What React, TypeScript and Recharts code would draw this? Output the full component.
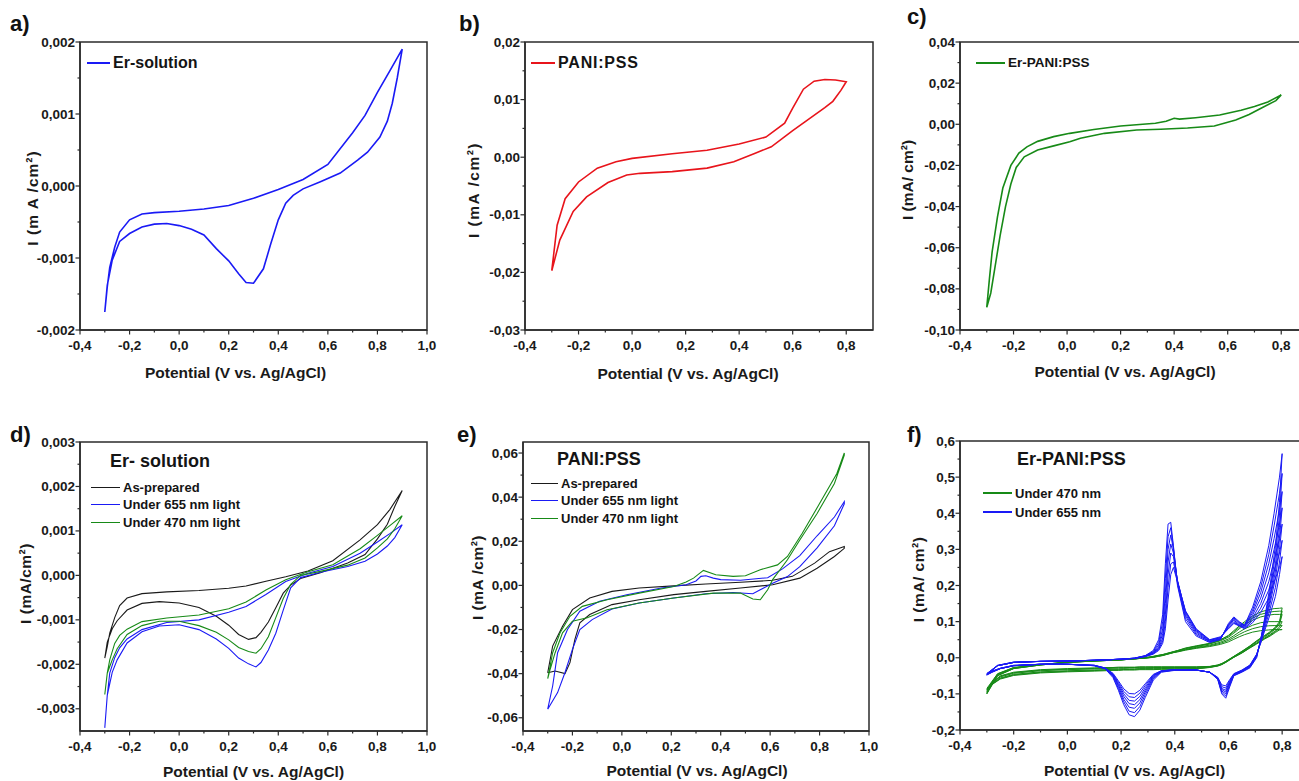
import React from 'react';
import { LineChart, Line, XAxis, YAxis, ReferenceArea, Legend } from 'recharts';

const FONT = '"Liberation Sans", Arial, Helvetica, sans-serif';
const AX = '#2b2b2b';
const TS = 5;
const TM = 3;
const PAD_L = 80;
const PAD_T = 20;
const PAD_R = 12;
const PAD_B = 60;

// ---- a) Er-solution
const aV = [-0.3, -0.29, -0.28, -0.26, -0.24, -0.2, -0.15, -0.1, 0.0, 0.1, 0.2, 0.3, 0.4, 0.5, 0.6, 0.7, 0.75, 0.8, 0.85, 0.9,
  0.88, 0.86, 0.84, 0.81, 0.76, 0.72, 0.65, 0.57, 0.5, 0.46, 0.43, 0.4, 0.37, 0.34, 0.3, 0.27, 0.24, 0.2, 0.15, 0.1, 0.05, 0.0, -0.05, -0.1, -0.15, -0.2, -0.24, -0.27, -0.29, -0.3];
const aI = [-0.00175, -0.0014, -0.00113, -0.00085, -0.00064, -0.00047, -0.00039, -0.00037, -0.00035, -0.00032, -0.00027, -0.00017, -0.00005, 0.00009, 0.0003, 0.00074, 0.00098, 0.0013, 0.0016, 0.0019,
  0.0015, 0.00115, 0.0009, 0.00068, 0.00047, 0.00036, 0.00018, 0.00006, -0.00004, -0.00013, -0.00024, -0.00047, -0.0008, -0.00115, -0.00135, -0.00134, -0.00122, -0.00104, -0.00087, -0.00068, -0.0006, -0.00055, -0.00052, -0.00053, -0.00057, -0.00066, -0.00077, -0.00103, -0.00138, -0.00175];

// ---- b) PANI:PSS
const bV = [-0.3, -0.28, -0.25, -0.2, -0.13, -0.06, 0.0, 0.15, 0.28, 0.4, 0.5, 0.57, 0.6, 0.64, 0.68, 0.72, 0.76, 0.8,
  0.78, 0.75, 0.72, 0.66, 0.6, 0.52, 0.46, 0.38, 0.28, 0.15, 0.03, -0.02, -0.09, -0.17, -0.22, -0.27, -0.3];
const bI = [-0.0197, -0.0118, -0.0072, -0.0043, -0.0019, -0.0008, -0.0002, 0.0006, 0.0012, 0.0023, 0.0035, 0.0059, 0.0085, 0.0118, 0.0132, 0.0135, 0.0134, 0.0131,
  0.0116, 0.0097, 0.0086, 0.0066, 0.0046, 0.0018, 0.0007, -0.0008, -0.0019, -0.0025, -0.0028, -0.0031, -0.0044, -0.0069, -0.0094, -0.0144, -0.0197];

// ---- c) Er-PANI:PSS
const cV = [-0.3, -0.29, -0.28, -0.26, -0.24, -0.21, -0.18, -0.15, -0.11, -0.05, 0.01, 0.1, 0.2, 0.33, 0.37, 0.4, 0.42, 0.48, 0.57, 0.65, 0.7, 0.75, 0.8,
  0.78, 0.73, 0.68, 0.63, 0.55, 0.45, 0.35, 0.26, 0.14, 0.05, 0.01, -0.05, -0.11, -0.16, -0.19, -0.21, -0.23, -0.25, -0.27, -0.285, -0.3];
const cI = [-0.089, -0.075, -0.062, -0.045, -0.031, -0.02, -0.014, -0.011, -0.0083, -0.006, -0.0044, -0.0025, -0.0008, 0.0005, 0.0015, 0.0029, 0.0025, 0.0032, 0.0045, 0.0068, 0.0086, 0.0108, 0.0143,
  0.0115, 0.0082, 0.0048, 0.0021, -0.0008, -0.0018, -0.0024, -0.0028, -0.0044, -0.0068, -0.0085, -0.0105, -0.0125, -0.0158, -0.021, -0.029, -0.04, -0.054, -0.07, -0.082, -0.089];

// ---- d) Er- solution under light
const dV = [-0.3, -0.29, -0.28, -0.26, -0.24, -0.21, -0.15, -0.05, 0.08, 0.2, 0.27, 0.35, 0.43, 0.52, 0.62, 0.73, 0.8, 0.85, 0.9,
  0.87, 0.84, 0.8, 0.75, 0.68, 0.57, 0.49, 0.45, 0.42, 0.39, 0.36, 0.33, 0.31, 0.28, 0.24, 0.2, 0.15, 0.08, 0.0, -0.08, -0.15, -0.21, -0.25, -0.27, -0.29, -0.3];
const dBlack = [-0.00186, -0.0016, -0.0013, -0.00095, -0.00068, -0.00051, -0.00041, -0.00037, -0.00034, -0.00029, -0.00024, -0.00013, -0.00003, 0.0001, 0.00033, 0.0008, 0.00114, 0.00148, 0.00191,
  0.00155, 0.00115, 0.00082, 0.00047, 0.00028, 0.00006, -0.00007, -0.00022, -0.0004, -0.00073, -0.00105, -0.00128, -0.0014, -0.00144, -0.00133, -0.00112, -0.00092, -0.00072, -0.00062, -0.00059, -0.00063, -0.00078, -0.00102, -0.0012, -0.0015, -0.00186];
const dBlue = [-0.00343, -0.0027, -0.0022, -0.00185, -0.00163, -0.00143, -0.00122, -0.00106, -0.001, -0.00083, -0.0007, -0.00043, -0.00014, 0.00005, 0.0002, 0.0005, 0.00075, 0.00094, 0.00114,
  0.00085, 0.00066, 0.00048, 0.00032, 0.0002, 0.00007, -0.00005, -0.00028, -0.00078, -0.0013, -0.00168, -0.00196, -0.00206, -0.00199, -0.00186, -0.00164, -0.00143, -0.00122, -0.00111, -0.00114, -0.00127, -0.00152, -0.0019, -0.00218, -0.0027, -0.00343];
const dGreen = [-0.00268, -0.0022, -0.0019, -0.00153, -0.00135, -0.00121, -0.00104, -0.00096, -0.00089, -0.00075, -0.0006, -0.00033, -0.0001, 0.00008, 0.00024, 0.0006, 0.0009, 0.00112, 0.00134,
  0.00105, 0.00082, 0.00062, 0.00039, 0.00023, 0.00009, 0.0, -0.0002, -0.00052, -0.00095, -0.00138, -0.00165, -0.00175, -0.00171, -0.00162, -0.00145, -0.00128, -0.00113, -0.00103, -0.00103, -0.00113, -0.00133, -0.00165, -0.0019, -0.0022, -0.00268];

// ---- e) PANI:PSS under light
const eBlackV = [-0.3, -0.28, -0.24, -0.2, -0.13, -0.04, 0.07, 0.21, 0.34, 0.48, 0.61, 0.69, 0.78, 0.84, 0.9,
  0.9, 0.86, 0.79, 0.72, 0.61, 0.48, 0.34, 0.21, 0.07, -0.04, -0.13, -0.17, -0.19, -0.21, -0.23, -0.27, -0.3];
const eBlackI = [-0.0396, -0.0275, -0.0185, -0.011, -0.0057, -0.0027, -0.0012, -0.0002, 0.0006, 0.0014, 0.0023, 0.0041, 0.0101, 0.0153, 0.0176,
  0.0168, 0.0131, 0.0078, 0.0033, 0.0003, -0.0012, -0.0027, -0.0042, -0.0065, -0.0087, -0.0132, -0.017, -0.0245, -0.035, -0.04, -0.0388, -0.0396];
const eBlueV = [-0.3, -0.28, -0.26, -0.22, -0.17, -0.09, 0.02, 0.16, 0.26, 0.3, 0.32, 0.34, 0.37, 0.4, 0.48, 0.59, 0.65, 0.72, 0.79, 0.86, 0.9,
  0.9, 0.86, 0.79, 0.72, 0.67, 0.61, 0.56, 0.53, 0.45, 0.34, 0.21, 0.07, -0.04, -0.12, -0.17, -0.2, -0.23, -0.26, -0.3];
const eBlueI = [-0.0561, -0.0456, -0.0305, -0.02, -0.0117, -0.0072, -0.0042, -0.0012, 0.0003, 0.002, 0.0041, 0.0044, 0.0033, 0.0026, 0.0023, 0.0035, 0.0075, 0.0135, 0.0225, 0.031, 0.038,
  0.037, 0.027, 0.017, 0.0085, 0.004, 0.001, -0.002, -0.0038, -0.0032, -0.0038, -0.0057, -0.008, -0.0107, -0.0155, -0.02, -0.029, -0.0395, -0.0486, -0.0561];
const eGreenV = [-0.3, -0.28, -0.25, -0.21, -0.16, -0.06, 0.07, 0.21, 0.26, 0.29, 0.33, 0.38, 0.45, 0.5, 0.56, 0.63, 0.67, 0.73, 0.8, 0.87, 0.9,
  0.9, 0.86, 0.79, 0.72, 0.67, 0.61, 0.59, 0.56, 0.53, 0.48, 0.37, 0.21, 0.07, -0.06, -0.14, -0.2, -0.24, -0.27, -0.29, -0.3];
const eGreenI = [-0.0423, -0.0305, -0.0215, -0.014, -0.0095, -0.0065, -0.0035, -0.0005, 0.0015, 0.0033, 0.0068, 0.0048, 0.0041, 0.0044, 0.0071, 0.0093, 0.0131, 0.0236, 0.0371, 0.0507, 0.06,
  0.059, 0.0462, 0.0326, 0.0206, 0.0116, 0.0026, -0.002, -0.0065, -0.0062, -0.0035, -0.0035, -0.0057, -0.008, -0.011, -0.0147, -0.0162, -0.0215, -0.0305, -0.038, -0.0423];

// ---- f) Er-PANI:PSS, repeated cycles (anodic then cathodic sweep)
const fUpV = [-0.3, -0.26, -0.2, -0.1, 0.0, 0.1, 0.2, 0.25, 0.29, 0.32, 0.34, 0.355, 0.365, 0.375, 0.385, 0.395, 0.41, 0.44, 0.48, 0.53, 0.57, 0.6, 0.62, 0.64, 0.66, 0.69, 0.72, 0.75, 0.77, 0.79, 0.8];
const fDownV = [0.8, 0.79, 0.775, 0.755, 0.735, 0.72, 0.705, 0.68, 0.65, 0.62, 0.605, 0.59, 0.575, 0.56, 0.53, 0.48, 0.4, 0.35, 0.32, 0.29, 0.27, 0.25, 0.23, 0.21, 0.19, 0.17, 0.14, 0.1, 0.0, -0.1, -0.2, -0.25, -0.28, -0.3];

const fBlue1Up = [-0.048, -0.022, -0.013, -0.01, -0.009, -0.007, -0.004, -0.001, 0.006, 0.02, 0.05, 0.12, 0.26, 0.37, 0.375, 0.31, 0.2, 0.1, 0.06, 0.042, 0.05, 0.095, 0.113, 0.1, 0.09, 0.14, 0.21, 0.31, 0.4, 0.5, 0.565];
const fBlue1Down = [0.565, 0.43, 0.31, 0.2, 0.11, 0.05, 0.0, -0.028, -0.04, -0.05, -0.08, -0.112, -0.1, -0.06, -0.04, -0.034, -0.035, -0.04, -0.062, -0.11, -0.145, -0.163, -0.158, -0.13, -0.09, -0.055, -0.03, -0.022, -0.018, -0.018, -0.022, -0.03, -0.04, -0.048];
const fBlue2Up = [-0.047, -0.022, -0.013, -0.01, -0.009, -0.007, -0.004, -0.001, 0.0055, 0.017, 0.042, 0.1, 0.22, 0.335, 0.36, 0.305, 0.205, 0.108, 0.064, 0.044, 0.051, 0.092, 0.11, 0.098, 0.089, 0.132, 0.195, 0.285, 0.365, 0.455, 0.51];
const fBlue2Down = [0.51, 0.395, 0.285, 0.185, 0.105, 0.05, 0.003, -0.026, -0.039, -0.049, -0.076, -0.106, -0.096, -0.059, -0.04, -0.034, -0.034, -0.039, -0.058, -0.102, -0.135, -0.152, -0.148, -0.122, -0.085, -0.052, -0.03, -0.022, -0.018, -0.018, -0.022, -0.03, -0.04, -0.047];
const fBlue3Up = [-0.046, -0.022, -0.013, -0.01, -0.009, -0.007, -0.004, -0.001, 0.005, 0.015, 0.035, 0.08, 0.18, 0.3, 0.34, 0.3, 0.21, 0.115, 0.068, 0.045, 0.052, 0.09, 0.108, 0.095, 0.088, 0.125, 0.18, 0.26, 0.33, 0.41, 0.46];
const fBlue3Down = [0.46, 0.36, 0.26, 0.17, 0.1, 0.05, 0.005, -0.025, -0.038, -0.048, -0.072, -0.1, -0.092, -0.058, -0.04, -0.034, -0.034, -0.038, -0.055, -0.095, -0.125, -0.14, -0.137, -0.115, -0.08, -0.05, -0.03, -0.022, -0.018, -0.018, -0.022, -0.03, -0.039, -0.046];
const fBlue4Up = [-0.046, -0.022, -0.013, -0.01, -0.009, -0.007, -0.004, -0.0015, 0.0045, 0.013, 0.03, 0.067, 0.15, 0.265, 0.315, 0.29, 0.212, 0.12, 0.072, 0.046, 0.053, 0.088, 0.104, 0.092, 0.086, 0.118, 0.165, 0.235, 0.3, 0.37, 0.415];
const fBlue4Down = [0.415, 0.33, 0.24, 0.16, 0.095, 0.048, 0.006, -0.023, -0.037, -0.047, -0.069, -0.095, -0.088, -0.057, -0.04, -0.034, -0.033, -0.037, -0.052, -0.089, -0.116, -0.13, -0.127, -0.107, -0.076, -0.048, -0.029, -0.021, -0.018, -0.018, -0.022, -0.03, -0.038, -0.045];
const fBlue5Up = [-0.045, -0.022, -0.013, -0.01, -0.009, -0.007, -0.004, -0.002, 0.004, 0.012, 0.026, 0.055, 0.12, 0.23, 0.29, 0.28, 0.215, 0.125, 0.075, 0.048, 0.055, 0.085, 0.1, 0.09, 0.084, 0.11, 0.15, 0.21, 0.27, 0.33, 0.37];
const fBlue5Down = [0.37, 0.3, 0.22, 0.15, 0.09, 0.045, 0.008, -0.022, -0.036, -0.046, -0.066, -0.09, -0.085, -0.056, -0.04, -0.034, -0.033, -0.037, -0.05, -0.083, -0.107, -0.12, -0.118, -0.1, -0.072, -0.047, -0.029, -0.021, -0.018, -0.018, -0.022, -0.03, -0.038, -0.045];
const fBlue6Up = [-0.044, -0.021, -0.012, -0.01, -0.009, -0.007, -0.004, -0.002, 0.0035, 0.011, 0.023, 0.047, 0.1, 0.195, 0.26, 0.265, 0.212, 0.128, 0.078, 0.049, 0.056, 0.082, 0.097, 0.089, 0.082, 0.103, 0.137, 0.187, 0.24, 0.29, 0.325];
const fBlue6Down = [0.325, 0.265, 0.195, 0.135, 0.082, 0.042, 0.009, -0.021, -0.035, -0.045, -0.063, -0.084, -0.08, -0.055, -0.04, -0.034, -0.033, -0.036, -0.048, -0.077, -0.098, -0.11, -0.108, -0.093, -0.068, -0.045, -0.028, -0.021, -0.018, -0.018, -0.021, -0.029, -0.037, -0.044];
const fBlue7Up = [-0.044, -0.021, -0.012, -0.01, -0.009, -0.007, -0.004, -0.002, 0.003, 0.01, 0.02, 0.04, 0.08, 0.16, 0.23, 0.25, 0.21, 0.13, 0.08, 0.05, 0.058, 0.08, 0.095, 0.088, 0.08, 0.097, 0.125, 0.165, 0.21, 0.25, 0.28];
const fBlue7Down = [0.28, 0.23, 0.17, 0.12, 0.075, 0.04, 0.01, -0.02, -0.034, -0.044, -0.06, -0.078, -0.075, -0.054, -0.04, -0.034, -0.033, -0.036, -0.046, -0.072, -0.09, -0.1, -0.099, -0.086, -0.064, -0.043, -0.028, -0.021, -0.018, -0.018, -0.021, -0.029, -0.037, -0.044];

const fGreen1Up = [-0.1, -0.05, -0.03, -0.02, -0.013, -0.009, -0.006, -0.003, 0.0, 0.004, 0.007, 0.009, 0.011, 0.013, 0.015, 0.017, 0.02, 0.027, 0.033, 0.04, 0.05, 0.062, 0.075, 0.088, 0.1, 0.115, 0.127, 0.133, 0.136, 0.137, 0.138];
const fGreen1Down = [0.138, 0.1, 0.085, 0.072, 0.062, 0.055, 0.047, 0.033, 0.018, 0.004, -0.003, -0.01, -0.016, -0.02, -0.024, -0.025, -0.025, -0.025, -0.025, -0.025, -0.025, -0.026, -0.026, -0.026, -0.026, -0.027, -0.027, -0.028, -0.03, -0.033, -0.04, -0.05, -0.068, -0.1];
const fGreen2Up = [-0.098, -0.049, -0.03, -0.02, -0.013, -0.009, -0.006, -0.003, 0.0, 0.0035, 0.0065, 0.0085, 0.0105, 0.0125, 0.0145, 0.0165, 0.0195, 0.026, 0.032, 0.039, 0.0485, 0.06, 0.072, 0.084, 0.096, 0.11, 0.12, 0.126, 0.128, 0.129, 0.129];
const fGreen2Down = [0.129, 0.096, 0.083, 0.07, 0.06, 0.053, 0.046, 0.032, 0.017, 0.0035, -0.0035, -0.0105, -0.0165, -0.0205, -0.0245, -0.026, -0.026, -0.026, -0.026, -0.0265, -0.0265, -0.027, -0.027, -0.0275, -0.0275, -0.028, -0.0285, -0.0295, -0.0315, -0.0345, -0.0415, -0.0515, -0.069, -0.098];
const fGreen3Up = [-0.095, -0.048, -0.029, -0.02, -0.013, -0.009, -0.006, -0.003, 0.0, 0.003, 0.006, 0.008, 0.01, 0.012, 0.014, 0.016, 0.019, 0.025, 0.031, 0.038, 0.047, 0.057, 0.068, 0.08, 0.091, 0.104, 0.113, 0.118, 0.12, 0.12, 0.12];
const fGreen3Down = [0.12, 0.092, 0.08, 0.068, 0.058, 0.051, 0.044, 0.031, 0.016, 0.003, -0.004, -0.011, -0.017, -0.021, -0.025, -0.027, -0.027, -0.027, -0.027, -0.028, -0.028, -0.028, -0.028, -0.029, -0.029, -0.029, -0.03, -0.031, -0.033, -0.036, -0.043, -0.053, -0.07, -0.095];
const fGreen4Up = [-0.09, -0.046, -0.028, -0.019, -0.012, -0.009, -0.006, -0.003, -0.001, 0.002, 0.005, 0.007, 0.009, 0.011, 0.013, 0.015, 0.018, 0.023, 0.029, 0.035, 0.043, 0.052, 0.061, 0.071, 0.08, 0.09, 0.097, 0.1, 0.1, 0.1, 0.1];
const fGreen4Down = [0.1, 0.085, 0.075, 0.064, 0.055, 0.048, 0.041, 0.029, 0.014, 0.002, -0.005, -0.012, -0.018, -0.022, -0.026, -0.029, -0.029, -0.03, -0.03, -0.03, -0.03, -0.031, -0.031, -0.031, -0.032, -0.032, -0.033, -0.034, -0.036, -0.039, -0.046, -0.056, -0.072, -0.09];
const fGreen5Up = [-0.088, -0.045, -0.0275, -0.019, -0.012, -0.0085, -0.0055, -0.003, -0.001, 0.0015, 0.0045, 0.0065, 0.0085, 0.0105, 0.0125, 0.0145, 0.017, 0.022, 0.0275, 0.033, 0.04, 0.048, 0.056, 0.0645, 0.072, 0.0805, 0.086, 0.0885, 0.089, 0.089, 0.089];
const fGreen5Down = [0.089, 0.081, 0.0725, 0.062, 0.0535, 0.0465, 0.0395, 0.028, 0.0135, 0.0015, -0.0055, -0.0125, -0.0185, -0.0225, -0.0265, -0.03, -0.0305, -0.031, -0.0315, -0.0315, -0.0315, -0.0325, -0.0325, -0.0325, -0.0335, -0.0335, -0.0345, -0.0355, -0.0375, -0.0405, -0.0475, -0.0575, -0.073, -0.0875];
const fGreen6Up = [-0.085, -0.044, -0.027, -0.019, -0.012, -0.008, -0.005, -0.003, -0.001, 0.001, 0.004, 0.006, 0.008, 0.01, 0.012, 0.014, 0.016, 0.021, 0.026, 0.031, 0.037, 0.044, 0.051, 0.058, 0.064, 0.071, 0.075, 0.077, 0.078, 0.078, 0.078];
const fGreen6Down = [0.078, 0.077, 0.07, 0.06, 0.052, 0.045, 0.038, 0.027, 0.013, 0.001, -0.006, -0.013, -0.019, -0.023, -0.027, -0.031, -0.032, -0.032, -0.033, -0.033, -0.033, -0.034, -0.034, -0.034, -0.035, -0.035, -0.036, -0.037, -0.039, -0.042, -0.049, -0.059, -0.074, -0.085];

// ---- ticks
const xTicks14 = [-0.4, -0.2, 0, 0.2, 0.4, 0.6, 0.8, 1.0];
const xMinor14 = [-0.3, -0.1, 0.1, 0.3, 0.5, 0.7, 0.9];
const xTicks12 = [-0.4, -0.2, 0, 0.2, 0.4, 0.6, 0.8];
const xMinor12 = [-0.3, -0.1, 0.1, 0.3, 0.5, 0.7];
const yTicksA = [-0.002, -0.001, 0, 0.001, 0.002];
const yMinorA = [-0.0015, -0.0005, 0.0005, 0.0015];
const yTicksB = [-0.03, -0.02, -0.01, 0, 0.01, 0.02];
const yMinorB = [-0.025, -0.015, -0.005, 0.005, 0.015];
const yTicksC = [-0.1, -0.08, -0.06, -0.04, -0.02, 0, 0.02, 0.04];
const yMinorC = [-0.09, -0.07, -0.05, -0.03, -0.01, 0.01, 0.03];
const yTicksD = [-0.003, -0.002, -0.001, 0, 0.001, 0.002, 0.003];
const yMinorD = [-0.0025, -0.0015, -0.0005, 0.0005, 0.0015, 0.0025];
const yTicksE = [-0.06, -0.04, -0.02, 0, 0.02, 0.04, 0.06];
const yMinorE = [-0.05, -0.03, -0.01, 0.01, 0.03, 0.05];
const yTicksF = [-0.2, -0.1, 0, 0.1, 0.2, 0.3, 0.4, 0.5, 0.6];
const yMinorF = [-0.15, -0.05, 0.05, 0.15, 0.25, 0.35, 0.45, 0.55];

type Pt = { v: number; i: number };
const pair = (vs: number[], is: number[]): Pt[] => vs.map((v, k) => ({ v, i: is[k] }));
const cycleF = (up: number[], down: number[]): Pt[] => [...pair(fUpV, up), ...pair(fDownV, down)];

const BLUE = '#1a1af5';
const RED = '#e8141b';
const GREEN = '#178a17';
const BLACK = '#1a1a1a';

type Series = { name: string; color: string; data: Pt[]; width: number; legend: boolean };
type LegendCfg = {
  x: number; y: number; rowH: number; font: number; lineLen: number; lineW: number; spacing?: number;
  title?: { text: string; dx: number; dy: number; size: number };
};
type PanelCfg = {
  letter: string; letterX: number; letterY: number;
  left: number; top: number; w: number; h: number;
  xDomain: [number, number]; xMajor: number[]; xMinor: number[];
  yDomain: [number, number]; yMajor: number[]; yMinor: number[]; yDigits: number;
  yLabel: string; yDx: number; yDy: number; ySpacing?: number;
  xDx: number; xDy: number;
  series: Series[];
  legend: LegendCfg;
};

const fmt = (v: number, d: number) => v.toFixed(d).replace('.', ',');
const isMajor = (v: number, majors: number[]) => majors.some((m) => Math.abs(m - v) < 1e-9);

const fGreenCycles = [
  [fGreen1Up, fGreen1Down], [fGreen2Up, fGreen2Down], [fGreen3Up, fGreen3Down],
  [fGreen4Up, fGreen4Down], [fGreen5Up, fGreen5Down], [fGreen6Up, fGreen6Down],
];
const fBlueCycles = [
  [fBlue1Up, fBlue1Down], [fBlue2Up, fBlue2Down], [fBlue3Up, fBlue3Down], [fBlue4Up, fBlue4Down],
  [fBlue5Up, fBlue5Down], [fBlue6Up, fBlue6Down], [fBlue7Up, fBlue7Down],
];

const panels: PanelCfg[] = [
  {
    letter: 'a)', letterX: 10, letterY: 13,
    left: 80, top: 42, w: 347, h: 288,
    xDomain: [-0.4, 1.0], xMajor: xTicks14, xMinor: xMinor14,
    yDomain: [-0.002, 0.002], yMajor: yTicksA, yMinor: yMinorA, yDigits: 3,
    yLabel: 'I (m A /cm²)', yDx: -42, yDy: 12, ySpacing: 1,
    xDx: -18, xDy: 48,
    series: [{ name: 'Er-solution', color: BLUE, data: pair(aV, aI), width: 1.6, legend: true }],
    legend: { x: 87, y: 63, rowH: 20, font: 16, lineLen: 23, lineW: 2 },
  },
  {
    letter: 'b)', letterX: 459, letterY: 13,
    left: 525, top: 42, w: 348, h: 288,
    xDomain: [-0.4, 0.9], xMajor: xTicks12, xMinor: xMinor12,
    yDomain: [-0.03, 0.02], yMajor: yTicksB, yMinor: yMinorB, yDigits: 2,
    yLabel: 'I (mA /cm²)', yDx: -46, yDy: 4, ySpacing: 1.5,
    xDx: -11, xDy: 49,
    series: [{ name: 'PANI:PSS', color: RED, data: pair(bV, bI), width: 1.6, legend: true }],
    legend: { x: 531, y: 63, rowH: 20, font: 16, lineLen: 24, lineW: 2, spacing: 0.8 },
  },
  {
    letter: 'c)', letterX: 907, letterY: 6,
    left: 960, top: 42, w: 348, h: 288,
    xDomain: [-0.4, 0.9], xMajor: xTicks12, xMinor: xMinor12,
    yDomain: [-0.1, 0.04], yMajor: yTicksC, yMinor: yMinorC, yDigits: 2,
    yLabel: 'I (mA/ cm²)', yDx: -47, yDy: -6,
    xDx: -9, xDy: 47,
    series: [{ name: 'Er-PANI:PSS', color: GREEN, data: pair(cV, cI), width: 1.6, legend: true }],
    legend: { x: 976, y: 63, rowH: 18, font: 13.5, lineLen: 29, lineW: 2 },
  },
  {
    letter: 'd)', letterX: 10, letterY: 424,
    left: 80, top: 442, w: 347, h: 289,
    xDomain: [-0.4, 1.0], xMajor: xTicks14, xMinor: xMinor14,
    yDomain: [-0.0035, 0.003], yMajor: yTicksD, yMinor: yMinorD, yDigits: 3,
    yLabel: 'I (mA/cm²)', yDx: -49, yDy: -3, ySpacing: 0.5,
    xDx: 0, xDy: 46,
    series: [
      { name: 'As-prepared', color: BLACK, data: pair(dV, dBlack), width: 1.1, legend: true },
      { name: 'Under 655 nm light', color: BLUE, data: pair(dV, dBlue), width: 1.1, legend: true },
      { name: 'Under 470 nm light', color: GREEN, data: pair(dV, dGreen), width: 1.1, legend: true },
    ],
    legend: { x: 91, y: 487, rowH: 17.5, font: 13, lineLen: 29, lineW: 1.2, title: { text: 'Er- solution', dx: 19, dy: -26, size: 18 } },
  },
  {
    letter: 'e)', letterX: 457, letterY: 424,
    left: 523, top: 442, w: 346, h: 289,
    xDomain: [-0.4, 1.0], xMajor: xTicks14, xMinor: xMinor14,
    yDomain: [-0.066, 0.065], yMajor: yTicksE, yMinor: yMinorE, yDigits: 2,
    yLabel: 'I (mA /cm²)', yDx: -40, yDy: -9, ySpacing: 0.5,
    xDx: 1, xDy: 45,
    series: [
      { name: 'As-prepared', color: BLACK, data: pair(eBlackV, eBlackI), width: 1.1, legend: true },
      { name: 'Under 655 nm light', color: BLUE, data: pair(eBlueV, eBlueI), width: 1.1, legend: true },
      { name: 'Under 470 nm light', color: GREEN, data: pair(eGreenV, eGreenI), width: 1.1, legend: true },
    ],
    legend: { x: 531, y: 483, rowH: 17.5, font: 13, lineLen: 27, lineW: 1.2, title: { text: 'PANI:PSS', dx: 26, dy: -24, size: 18 } },
  },
  {
    letter: 'f)', letterX: 907, letterY: 424,
    left: 960, top: 441, w: 349, h: 289,
    xDomain: [-0.4, 0.9], xMajor: xTicks12, xMinor: xMinor12,
    yDomain: [-0.2, 0.6], yMajor: yTicksF, yMinor: yMinorF, yDigits: 1,
    yLabel: 'I (mA/ cm²)', yDx: -36, yDy: -6, ySpacing: 0.5,
    xDx: 0, xDy: 46,
    series: [
      ...fGreenCycles.map(([up, down], k) => ({ name: k === 0 ? 'Under 470 nm' : `g${k}`, color: GREEN, data: cycleF(up, down), width: 1, legend: k === 0 })),
      ...fBlueCycles.map(([up, down], k) => ({ name: k === 0 ? 'Under 655 nm' : `b${k}`, color: BLUE, data: cycleF(up, down), width: 1, legend: k === 0 })),
    ],
    legend: { x: 983, y: 493, rowH: 19, font: 13, lineLen: 29, lineW: 2, title: { text: 'Er-PANI:PSS', dx: 34, dy: -34, size: 18 } },
  },
];

function Panel({ p }: { p: PanelCfg }) {
  const chartLeft = p.left - PAD_L;
  const chartTop = p.top - PAD_T;
  const xAll = [...p.xMajor, ...p.xMinor].sort((m, n) => m - n);
  const yAll = [...p.yMajor, ...p.yMinor].sort((m, n) => m - n);
  const lg = p.legend;
  const legendItems = p.series.filter((s) => s.legend);

  const xTick = (props: any) => {
    const { x, y, payload } = props;
    const axisY = y - TS - TM;
    const major = isMajor(payload.value, p.xMajor);
    return (
      <g>
        <line x1={x} x2={x} y1={axisY} y2={axisY + (major ? 4.5 : 2.5)} stroke={AX} strokeWidth={1.2} />
        {major && (
          <text x={x} y={axisY + 20} textAnchor="middle" fontFamily={FONT} fontWeight="bold" fontSize={13.5} fill="#1a1a1a">
            {fmt(payload.value, 1)}
          </text>
        )}
      </g>
    );
  };
  const yTick = (props: any) => {
    const { x, y, payload } = props;
    const axisX = x + TS + TM;
    const major = isMajor(payload.value, p.yMajor);
    return (
      <g>
        <line x1={axisX - (major ? 4.5 : 2.5)} x2={axisX} y1={y} y2={y} stroke={AX} strokeWidth={1.2} />
        {major && (
          <text x={axisX - 5} y={y + 4.5} textAnchor="end" fontFamily={FONT} fontWeight="bold" fontSize={13.5} fill="#1a1a1a">
            {fmt(payload.value, p.yDigits)}
          </text>
        )}
      </g>
    );
  };
  const yTitle = () => {
    const x = PAD_L + p.yDx;
    const y = PAD_T + p.h / 2 + p.yDy;
    return (
      <text x={x} y={y} transform={`rotate(-90 ${x} ${y})`} textAnchor="middle" fontFamily={FONT} fontWeight="bold" fontSize={15.5} letterSpacing={p.ySpacing || 0} fill="#1a1a1a">
        {p.yLabel}
      </text>
    );
  };
  const xTitle = () => (
    <text x={PAD_L + p.w / 2 + p.xDx} y={PAD_T + p.h + p.xDy} textAnchor="middle" fontFamily={FONT} fontWeight="bold" fontSize={15.5} fill="#1a1a1a">
      Potential (V vs. Ag/AgCl)
    </text>
  );
  const legendContent = () => (
    <div style={{ position: 'relative', fontFamily: FONT, fontWeight: 'bold', color: '#141414' }}>
      {lg.title && (
        <div style={{ position: 'absolute', left: lg.title.dx, top: lg.title.dy, fontSize: lg.title.size, lineHeight: 1, whiteSpace: 'nowrap' }}>
          {lg.title.text}
        </div>
      )}
      {legendItems.map((s, k) => (
        <div key={k} style={{ display: 'flex', alignItems: 'center', height: lg.rowH, whiteSpace: 'nowrap' }}>
          <span style={{ display: 'inline-block', width: lg.lineLen, height: 0, borderTop: `${lg.lineW}px solid ${s.color}`, marginRight: 3 }} />
          <span style={{ fontSize: lg.font, letterSpacing: lg.spacing || 0, lineHeight: 1 }}>{s.name}</span>
        </div>
      ))}
    </div>
  );

  return (
    <div style={{ position: 'absolute', left: chartLeft, top: chartTop }}>
      <LineChart width={PAD_L + p.w + PAD_R} height={PAD_T + p.h + PAD_B} margin={{ top: PAD_T, right: PAD_R, bottom: 0, left: 0 }}>
        <XAxis
          type="number" dataKey="v" domain={p.xDomain} ticks={xAll} interval={0} allowDataOverflow
          height={PAD_B} tickSize={TS} tickMargin={TM} tickLine={false}
          axisLine={{ stroke: AX, strokeWidth: 1.5 }} tick={xTick} label={xTitle}
        />
        <YAxis
          type="number" domain={p.yDomain} ticks={yAll} interval={0} allowDataOverflow
          width={PAD_L} tickSize={TS} tickMargin={TM} tickLine={false}
          axisLine={{ stroke: AX, strokeWidth: 1.5 }} tick={yTick} label={yTitle}
        />
        <ReferenceArea x1={p.xDomain[0]} x2={p.xDomain[1]} y1={p.yDomain[0]} y2={p.yDomain[1]} fill="none" fillOpacity={0} stroke={AX} strokeWidth={1.5} ifOverflow="visible" />
        {p.series.map((s, k) => (
          <Line
            key={k} data={s.data} dataKey="i" type="linear" name={s.name} stroke={s.color} strokeWidth={s.width}
            dot={false} activeDot={false} isAnimationActive={false} legendType={s.legend ? 'line' : 'none'}
          />
        ))}
        <Legend
          layout="vertical" align="center" verticalAlign="middle" content={legendContent}
          wrapperStyle={{ left: lg.x - chartLeft, top: lg.y - lg.rowH / 2 - chartTop, width: 'auto', height: 'auto' }}
        />
      </LineChart>
    </div>
  );
}

export default function App() {
  return (
    <div style={{ position: 'absolute', left: 0, top: 0, width: 1299, height: 781, overflow: 'hidden', background: '#fff' }}>
      {panels.map((p) => (
        <div key={p.letter} style={{ position: 'absolute', left: p.letterX, top: p.letterY, fontFamily: FONT, fontWeight: 'bold', fontSize: 22, lineHeight: 1, color: '#111' }}>
          {p.letter}
        </div>
      ))}
      {panels.map((p) => (
        <Panel key={p.letter} p={p} />
      ))}
    </div>
  );
}
